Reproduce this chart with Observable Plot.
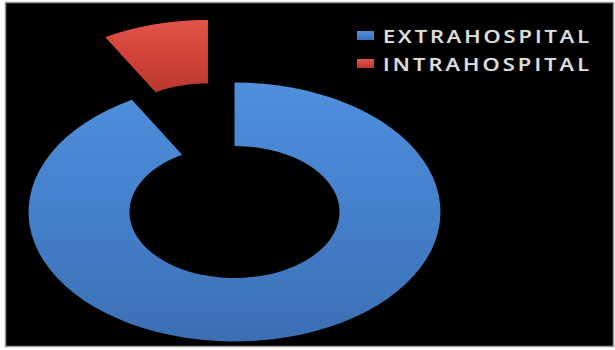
<!DOCTYPE html>
<html>
<head>
<meta charset="utf-8">
<script src="https://cdn.jsdelivr.net/npm/d3@7"></script>
<script src="https://cdn.jsdelivr.net/npm/@observablehq/plot@0.6"></script>
<style>
  html, body { margin: 0; padding: 0; background: #fff; }
  #wrap { position: relative; width: 615px; height: 350px; }
  #legend { position: absolute; left: 357px; top: 21px; font-family: "Open Sans", "DejaVu Sans", sans-serif; font-weight: 600; font-size: 18.5px; color: #dedede; }
  .row { display: flex; align-items: center; height: 28px; }
  .sw { width: 17px; height: 9px; margin-right: 9px; flex: none; }
  .lab { white-space: nowrap; display: inline-block; transform-origin: left center; text-shadow: 0 0 1px rgba(255,255,255,0.4); }
</style>
</head>
<body>
<div id="wrap"><div id="legend"></div></div>
<script>
// Data
const categories = ["EXTRAHOSPITAL", "INTRAHOSPITAL"];
const values = [91.7, 8.3];
const colors = ["#4682cd", "#d4443b"];
const colorsLight = ["#4f8fdc", "#e25449"];
const colorsDark = ["#3b6fb4", "#b9382f"];
const explode = [0, 0.5];
const innerRatio = 0.51;

const pie = d3.pie().sort(null).value(d => d.value);
const arcs = pie(categories.map((c, i) => ({name: c, value: values[i], i})));

// Build slice outlines in unit (ellipse-normalised) coordinates
function slicePoints(a) {
  const mid = (a.startAngle + a.endAngle) / 2;
  const e = explode[a.data.i];
  const ox = Math.sin(mid) * e, oy = Math.cos(mid) * e;
  const n = 80, pts = [];
  for (let k = 0; k <= n; k++) {
    const t = a.startAngle + (a.endAngle - a.startAngle) * k / n;
    pts.push({name: a.data.name, x: ox + Math.sin(t), y: oy + Math.cos(t)});
  }
  for (let k = n; k >= 0; k--) {
    const t = a.startAngle + (a.endAngle - a.startAngle) * k / n;
    pts.push({name: a.data.name, x: ox + innerRatio * Math.sin(t), y: oy + innerRatio * Math.cos(t)});
  }
  return pts;
}

const sliceMarks = arcs.map(a => Plot.line(slicePoints(a), {
  x: "x", y: "y", curve: "linear-closed",
  fill: `url(#grad${a.data.i})`, stroke: "none"
}));

const svg = Plot.plot({
  width: 615, height: 350,
  marginLeft: 5, marginRight: 2, marginTop: 2, marginBottom: 4,
  style: {background: "#fff", overflow: "visible"},
  x: {domain: [-1, 1], range: [28, 440], axis: null},
  y: {domain: [-1, 1], range: [341, 82], axis: null},
  marks: [
    Plot.frame({fill: "#000", stroke: "#9a9a9a", strokeWidth: 1.5}),
    ...sliceMarks
  ]
});

// gradients for the bevelled 3D look
const defs = d3.select(svg).insert("defs", ":first-child");
colors.forEach((c, i) => {
  const g = defs.append("linearGradient").attr("id", "grad" + i)
    .attr("x1", 0).attr("y1", 0).attr("x2", 0).attr("y2", 1);
  g.append("stop").attr("offset", "0%").attr("stop-color", colorsLight[i]);
  g.append("stop").attr("offset", "45%").attr("stop-color", c);
  g.append("stop").attr("offset", "100%").attr("stop-color", colorsDark[i]);
});

document.getElementById("wrap").prepend(svg);

// Legend
const legend = d3.select("#legend");
const targetWidth = 206;
const stretch = 1.18;
categories.forEach((c, i) => {
  const row = legend.append("div").attr("class", "row");
  row.append("div").attr("class", "sw")
    .style("background", `linear-gradient(${colorsLight[i]}, ${colors[i]} 50%, ${colorsDark[i]})`);
  const lab = row.append("span").attr("class", "lab").text(c);
  const w = lab.node().getBoundingClientRect().width;
  const ls = Math.max(0, (targetWidth / stretch - w) / (c.length - 1));
  lab.style("letter-spacing", ls + "px").style("transform", `scaleX(${stretch})`);
});
</script>
</body>
</html>
